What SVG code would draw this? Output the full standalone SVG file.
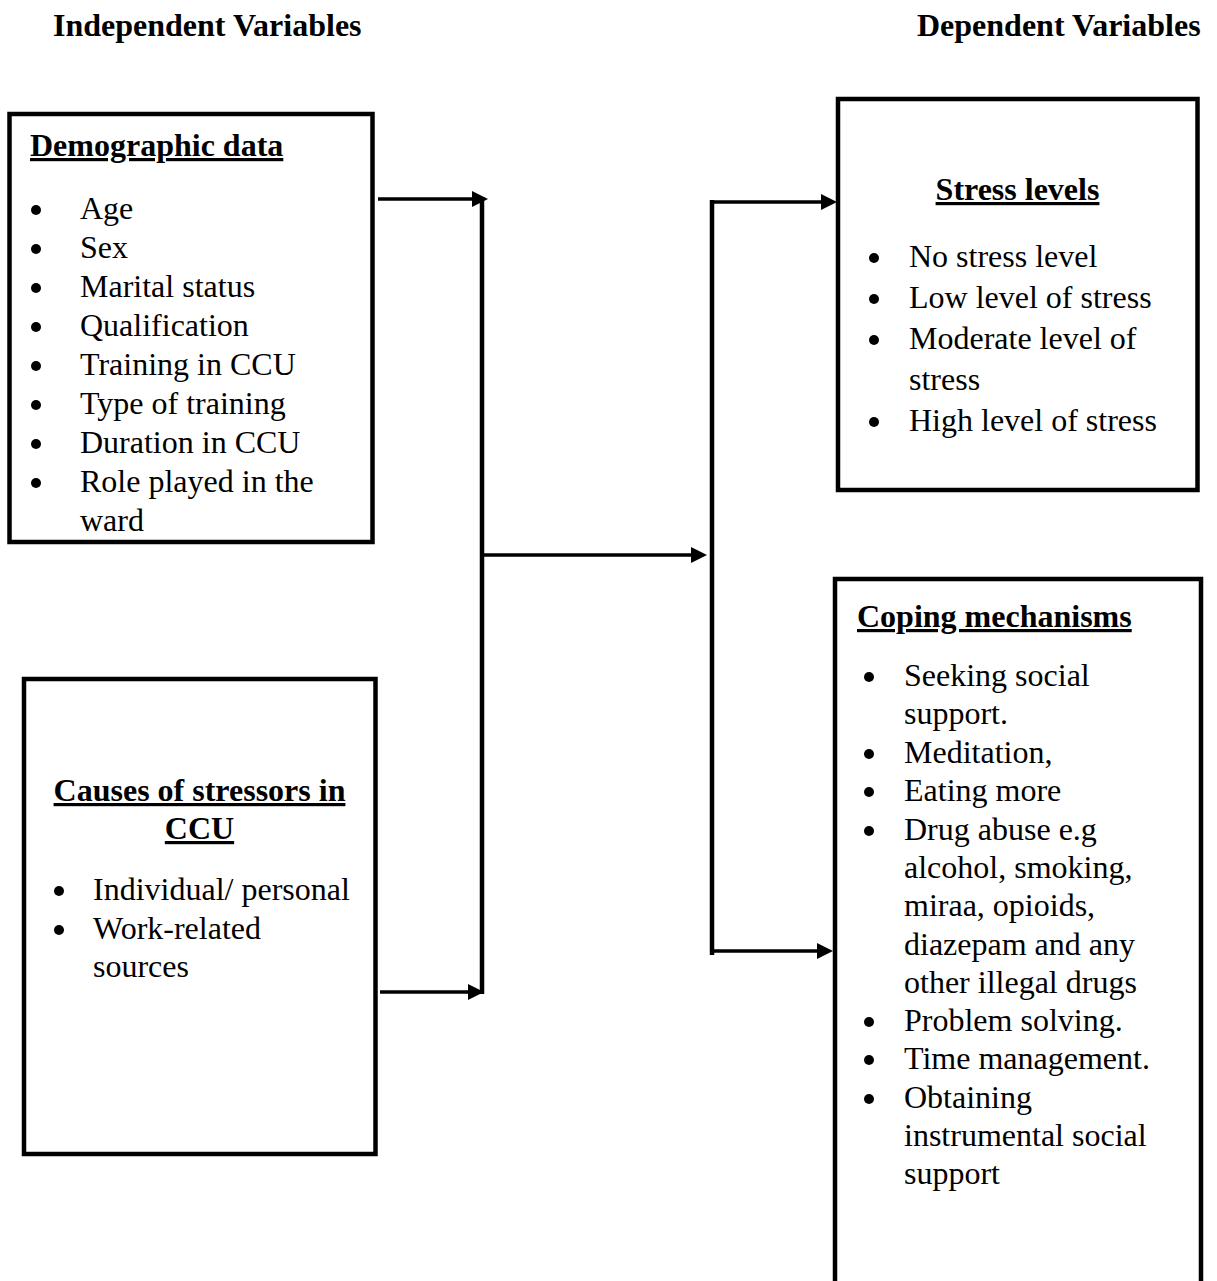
<svg xmlns="http://www.w3.org/2000/svg" width="1217" height="1281" viewBox="0 0 1217 1281">
<style>
  text { font-family: "Liberation Serif", "Times New Roman", serif; font-size: 32px; fill: #000; }
  .h { font-weight: bold; }
  .t { font-weight: bold; text-decoration: underline; text-decoration-thickness: 2.6px; }
  .box { fill: none; stroke: #000; stroke-width: 4.5; }
  .arr { fill: none; stroke: #000; stroke-width: 3.5; marker-end: url(#ah); }
  .bar { fill: none; stroke: #000; stroke-width: 4.5; }
  .b { fill: #000; }
</style>
<defs>
  <marker id="ah" viewBox="0 0 16 16" refX="6" refY="8" markerWidth="16" markerHeight="16" markerUnits="userSpaceOnUse" orient="auto">
    <path d="M0,0 L16,8 L0,16 Z" fill="#000"/>
  </marker>
</defs>
<rect width="1217" height="1281" fill="#fff"/>

<g id="headers">
  <text class="h" x="53" y="36">Independent Variables</text>
  <text class="h" x="917" y="36">Dependent Variables</text>
</g>

<g id="demographic">
  <rect class="box" x="9.5" y="114" width="363" height="428"/>
  <text class="t" x="30" y="156">Demographic data</text>
  <circle class="b" cx="36" cy="210" r="5"/><text x="80" y="219">Age</text>
  <circle class="b" cx="36" cy="249" r="5"/><text x="80" y="258">Sex</text>
  <circle class="b" cx="36" cy="288" r="5"/><text x="80" y="297">Marital status</text>
  <circle class="b" cx="36" cy="327" r="5"/><text x="80" y="336">Qualification</text>
  <circle class="b" cx="36" cy="366" r="5"/><text x="80" y="375">Training in CCU</text>
  <circle class="b" cx="36" cy="405" r="5"/><text x="80" y="414">Type of training</text>
  <circle class="b" cx="36" cy="444" r="5"/><text x="80" y="453">Duration in CCU</text>
  <circle class="b" cx="36" cy="483" r="5"/><text x="80" y="492">Role played in the</text>
  <text x="80" y="531">ward</text>
</g>

<g id="causes">
  <rect class="box" x="24" y="679" width="351.5" height="475"/>
  <text class="t" x="199.5" y="801" text-anchor="middle">Causes of stressors in</text>
  <text class="t" x="199.5" y="839" text-anchor="middle">CCU</text>
  <circle class="b" cx="59" cy="891" r="5"/><text x="93" y="900">Individual/ personal</text>
  <circle class="b" cx="59" cy="930" r="5"/><text x="93" y="939">Work-related</text>
  <text x="93" y="977">sources</text>
</g>

<g id="stress">
  <rect class="box" x="838" y="99" width="359.5" height="391"/>
  <text class="t" x="1017.5" y="200" text-anchor="middle">Stress levels</text>
  <circle class="b" cx="874" cy="258" r="5"/><text x="909" y="267">No stress level</text>
  <circle class="b" cx="874" cy="299" r="5"/><text x="909" y="308">Low level of stress</text>
  <circle class="b" cx="874" cy="340" r="5"/><text x="909" y="349">Moderate level of</text>
  <text x="909" y="390">stress</text>
  <circle class="b" cx="874" cy="422" r="5"/><text x="909" y="431">High level of stress</text>
</g>

<g id="coping">
  <path class="box" d="M835,1290 V579 H1201 V1290"/>
  <text class="t" x="857" y="627">Coping mechanisms</text>
  <circle class="b" cx="869" cy="677" r="5"/><text x="904" y="686">Seeking social</text>
  <text x="904" y="724">support.</text>
  <circle class="b" cx="869" cy="754" r="5"/><text x="904" y="763">Meditation,</text>
  <circle class="b" cx="869" cy="792" r="5"/><text x="904" y="801">Eating more</text>
  <circle class="b" cx="869" cy="831" r="5"/><text x="904" y="840">Drug abuse e.g</text>
  <text x="904" y="878">alcohol, smoking,</text>
  <text x="904" y="916">miraa, opioids,</text>
  <text x="904" y="955">diazepam and any</text>
  <text x="904" y="993">other illegal drugs</text>
  <circle class="b" cx="869" cy="1022" r="5"/><text x="904" y="1031">Problem solving.</text>
  <circle class="b" cx="869" cy="1060" r="5"/><text x="904" y="1069">Time management.</text>
  <circle class="b" cx="869" cy="1099" r="5"/><text x="904" y="1108">Obtaining</text>
  <text x="904" y="1146">instrumental social</text>
  <text x="904" y="1184">support</text>
</g>

<g id="connectors">
  <line class="bar" x1="482" y1="197" x2="482" y2="994"/>
  <line class="bar" x1="712" y1="200" x2="712" y2="955"/>
  <line class="arr" x1="378" y1="199" x2="478" y2="199"/>
  <line class="arr" x1="380" y1="992" x2="474" y2="992"/>
  <line class="arr" x1="484" y1="555" x2="697" y2="555"/>
  <line class="arr" x1="710" y1="202" x2="827" y2="202"/>
  <line class="arr" x1="712" y1="951" x2="823" y2="951"/>
</g>
</svg>
